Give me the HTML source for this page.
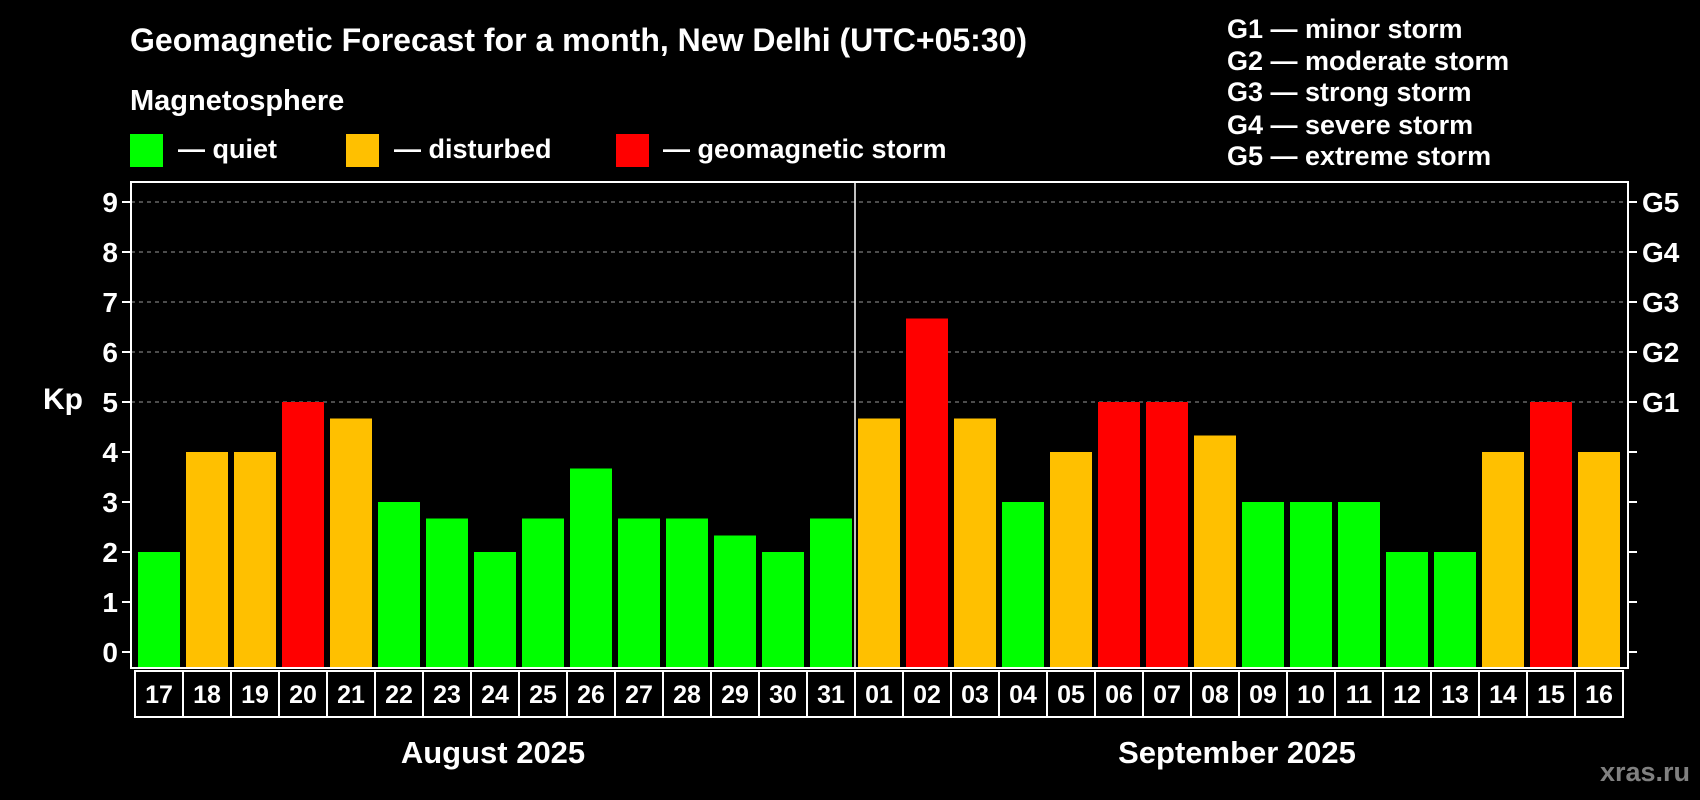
<!DOCTYPE html>
<html><head><meta charset="utf-8"><style>
html,body{margin:0;padding:0;background:#000;width:1700px;height:800px;overflow:hidden}
svg{display:block;font-family:"Liberation Sans",sans-serif;font-weight:bold}
</style></head><body>
<svg id="chart" width="1700" height="800" viewBox="0 0 1700 800">
<rect x="0" y="0" width="1700" height="800" fill="#000"/>
<text x="130" y="51" fill="#fff" font-size="32">Geomagnetic Forecast for a month, New Delhi (UTC+05:30)</text>
<text x="130" y="110" fill="#fff" font-size="29">Magnetosphere</text>
<g><rect x="130" y="134" width="33" height="33" fill="#00ff00"/><text x="178" y="158" fill="#fff" font-size="27">— quiet</text></g>
<g><rect x="346" y="134" width="33" height="33" fill="#ffc000"/><text x="394" y="158" fill="#fff" font-size="27">— disturbed</text></g>
<g><rect x="616" y="134" width="33" height="33" fill="#ff0000"/><text x="663" y="158" fill="#fff" font-size="27">— geomagnetic storm</text></g>
<g fill="#fff" font-size="27">
<text x="1227" y="38">G1 — minor storm</text>
<text x="1227" y="70">G2 — moderate storm</text>
<text x="1227" y="101">G3 — strong storm</text>
<text x="1227" y="134">G4 — severe storm</text>
<text x="1227" y="165">G5 — extreme storm</text>
</g>
<g id="grid"></g>
<g id="bars"></g>
<rect x="131" y="182" width="1497" height="486" fill="none" stroke="#fff" stroke-width="2"/>
<line x1="855" y1="182" x2="855" y2="668" stroke="#fff" stroke-width="1.5"/>
<g id="axes"></g>
<text x="63" y="409" fill="#fff" font-size="30" text-anchor="middle">Kp</text>
<text x="493" y="763" fill="#fff" font-size="31" text-anchor="middle">August 2025</text>
<text x="1237" y="763" fill="#fff" font-size="31" text-anchor="middle">September 2025</text>
<text x="1690" y="781" fill="#808080" font-size="27" text-anchor="end">xras.ru</text>
</svg>
<script>
const days = ["17","18","19","20","21","22","23","24","25","26","27","28","29","30","31","01","02","03","04","05","06","07","08","09","10","11","12","13","14","15","16"];
const kpValues = [2,4,4,5,4.67,3,2.67,2,2.67,3.67,2.67,2.67,2.33,2,2.67,4.67,6.67,4.67,3,4,5,5,4.33,3,3,3,2,2,4,5,4];
const yTicks = [0,1,2,3,4,5,6,7,8,9];
const gLabels = ["G1","G2","G3","G4","G5"];
const gLevels = [5,6,7,8,9];

const NS = "http://www.w3.org/2000/svg";
const y0 = 652, unit = 50, x0 = 138, pitch = 48, bw = 42;
function yScale(v){ return y0 - v*unit; }
function xScale(i){ return x0 + i*pitch; }
function mk(tag, attrs, parent){ const e=document.createElementNS(NS,tag); for(const k in attrs) e.setAttribute(k,attrs[k]); parent.appendChild(e); return e; }
const grid=document.getElementById("grid"), bars=document.getElementById("bars"), axes=document.getElementById("axes");

gLevels.forEach(v=>{
  const l=mk("line",{x1:131,x2:1628,y1:yScale(v),y2:yScale(v),stroke:"#999","stroke-dasharray":"4,4","stroke-width":1},grid);
  
  
});
yTicks.forEach(v=>{
  const y=yScale(v);
  mk("line",{x1:122,x2:131,y1:y,y2:y,stroke:"#fff","stroke-width":2},axes);
  mk("line",{x1:1628,x2:1637,y1:y,y2:y,stroke:"#fff","stroke-width":2},axes);
  const t=mk("text",{x:118,y:y+10,fill:"#fff","font-size":28,"text-anchor":"end"},axes);
  t.textContent=v;
  
  
});
gLabels.forEach((g,i)=>{
  const t=mk("text",{x:1642,y:yScale(gLevels[i])+10,fill:"#fff","font-size":28},axes);
  t.textContent=g;
  
  
});
kpValues.forEach((v,i)=>{
  const col = v>=5 ? "#ff0000" : (v>=4 ? "#ffc000" : "#00ff00");
  const r=mk("rect",{x:xScale(i),y:yScale(v),width:bw,height:667-yScale(v),fill:col},bars);
  
  
});
days.forEach((d,i)=>{
  const bx=xScale(i)-3;
  const b=mk("rect",{x:bx,y:671,width:48,height:46,fill:"none",stroke:"#fff","stroke-width":2},axes);
  
  
  const t=mk("text",{x:xScale(i)+bw/2,y:703,fill:"#fff","font-size":25,"text-anchor":"middle"},axes);
  t.textContent=d;
  
  
});
</script>
</body></html>
